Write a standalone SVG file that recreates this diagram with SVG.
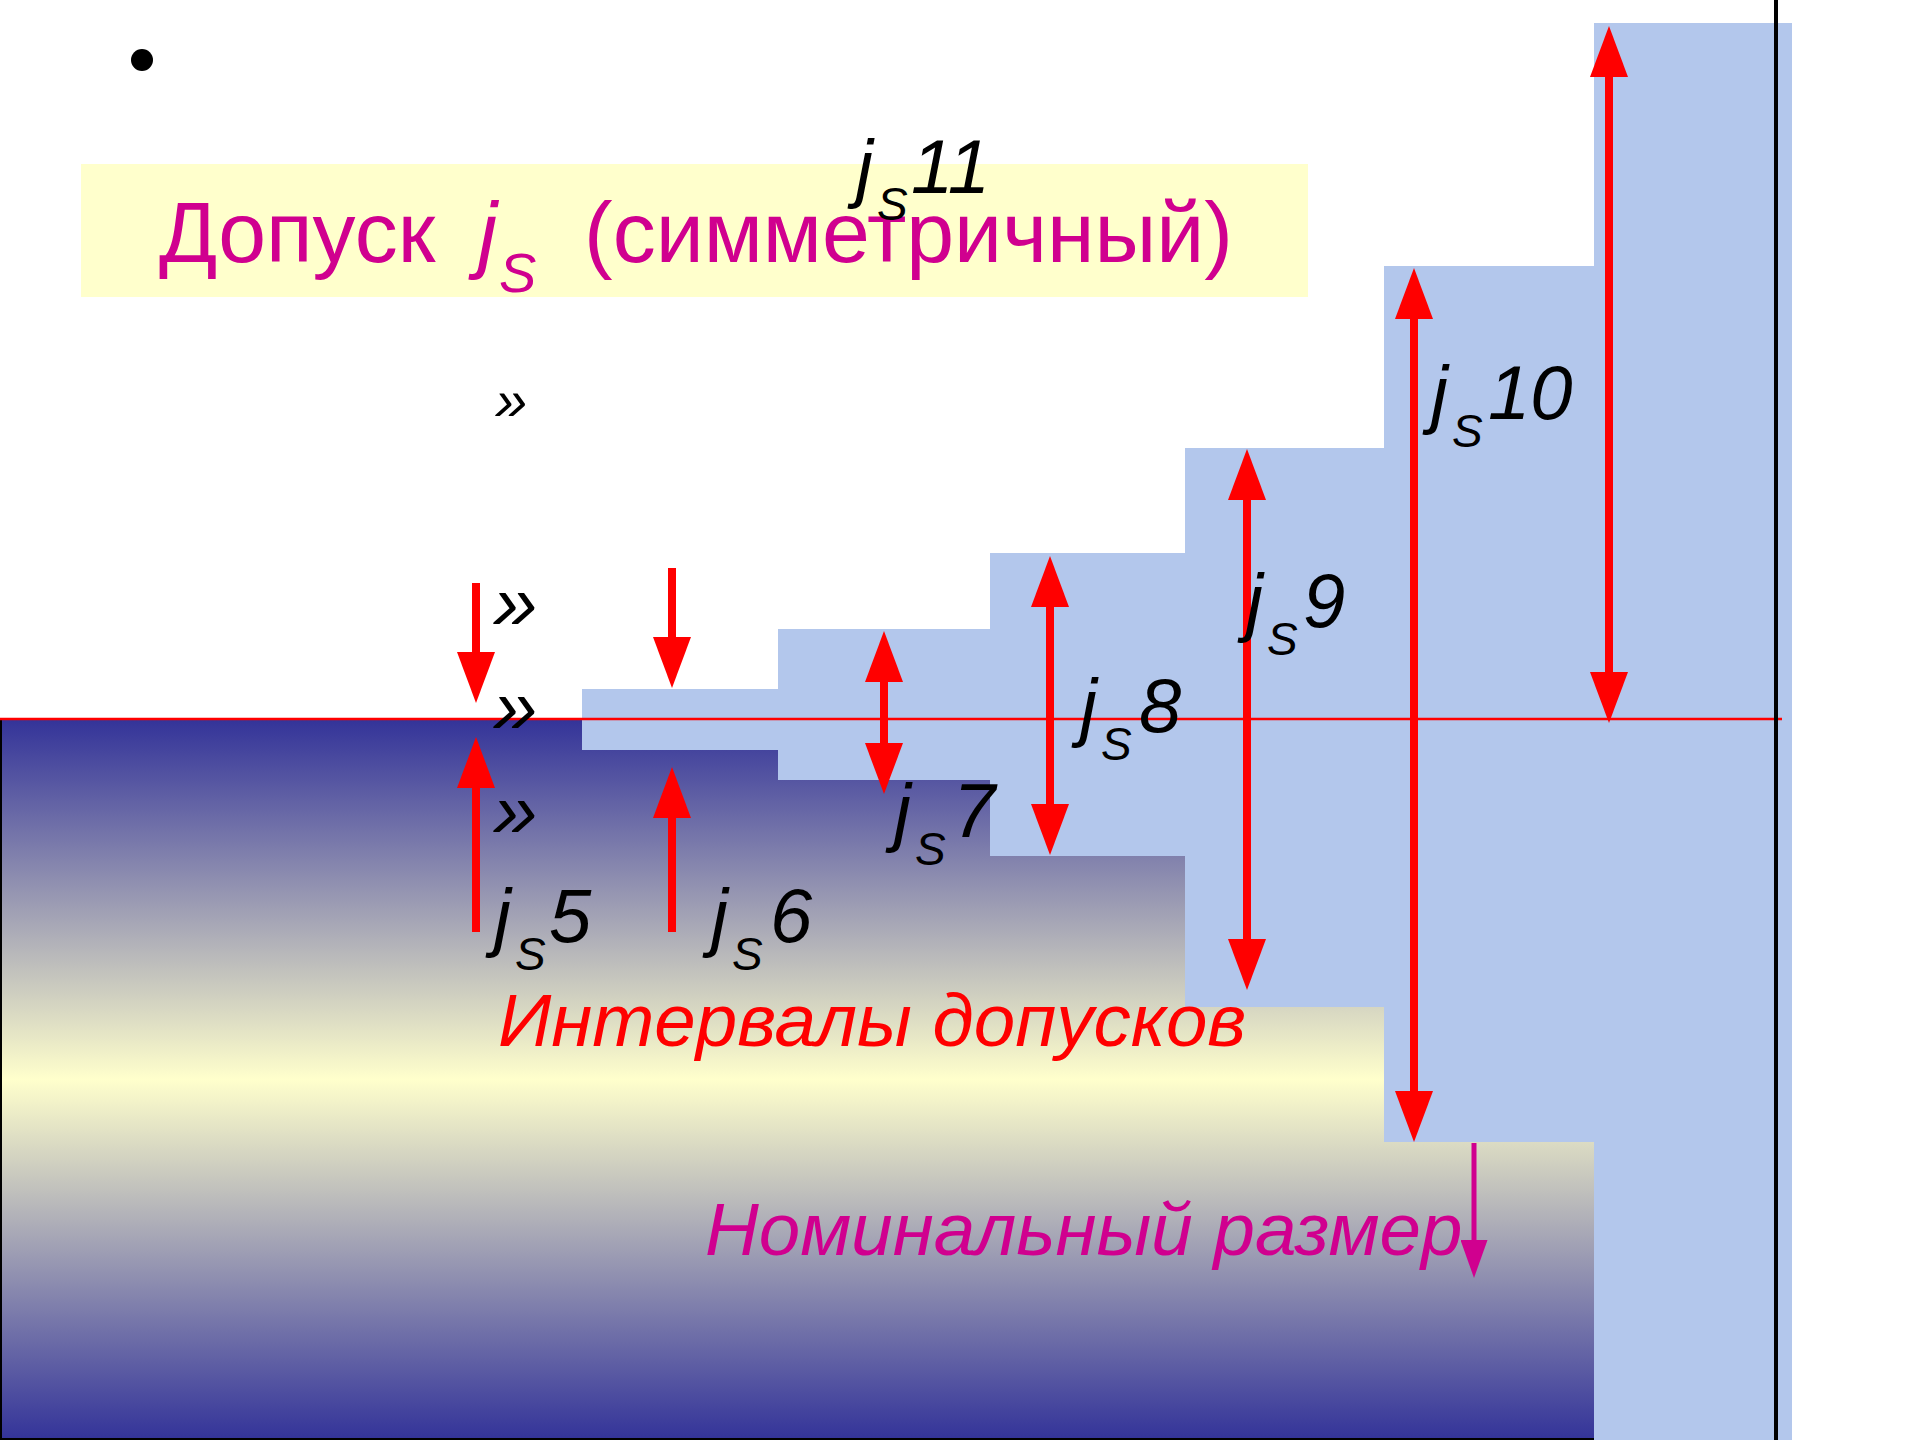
<svg xmlns="http://www.w3.org/2000/svg" width="1920" height="1440" viewBox="0 0 1920 1440">
<defs>
<linearGradient id="gBody" x1="0" y1="0" x2="0" y2="1">
<stop offset="0" stop-color="#333399"/>
<stop offset="0.5" stop-color="#FFFFCC"/>
<stop offset="1" stop-color="#333399"/>
</linearGradient>
<marker id="ah" markerUnits="userSpaceOnUse" viewBox="0 0 52 38" markerWidth="52" markerHeight="38" refX="1" refY="19" orient="auto-start-reverse">
<path d="M0,0 L51,19 L0,38 Z" fill="#FF0000"/>
</marker>
<marker id="ahm" markerUnits="userSpaceOnUse" viewBox="0 0 39 27" markerWidth="39" markerHeight="27" refX="1" refY="13.5" orient="auto">
<path d="M0,0 L38,13.5 L0,27 Z" fill="#D0008F"/>
</marker>
<style>
.lbl{font-family:"Liberation Sans",Arial,sans-serif;font-style:italic;font-size:76px;fill:#000}
.sub{font-size:46px}
.big{font-size:74.5px}
.ttl{font-family:"Liberation Sans",Arial,sans-serif;font-size:86px;fill:#D0008F}
.ttls{font-size:56px;font-style:italic}
.arr{stroke:#FF0000;stroke-width:8;fill:none}
.gq{font-family:"Liberation Sans",Arial,sans-serif;font-style:italic;fill:#000}
</style>
</defs>
<rect x="0" y="0" width="1920" height="1440" fill="#FFFFFF"/>
<g id="bullet"><circle cx="142" cy="60" r="11" fill="#000"/></g>
<g id="title">
<rect x="81" y="164" width="1227" height="133" fill="#FFFFCC"/>
<text class="ttl" x="159" y="262">Допуск</text>
<text class="ttl" x="478" y="262" font-style="italic">j</text>
<text class="ttl ttls" x="499" y="292">S</text>
<text class="ttl" x="584" y="262">(симметричный)</text>
</g>
<g id="body">
<rect x="0" y="719" width="1594" height="721" fill="url(#gBody)"/>
<path d="M1,719 V1439 H1594" fill="none" stroke="#000" stroke-width="2"/>
</g>
<g id="tolerance-zones">
<path d="M582,689 H778 V629 H990 V553 H1185 V448 H1384 V266 H1594 V23 H1792 V1440 H1594 V1142 H1384 V1007 H1185 V856 H990 V780 H778 V750 H582 Z" fill="#B3C7EC"/>
</g>
<g id="axis">
<line x1="0" y1="719" x2="1782" y2="719" stroke="#FF0000" stroke-width="2.5"/>
<line x1="1776" y1="0" x2="1776" y2="1440" stroke="#000" stroke-width="4"/>
</g>
<g id="connectors">
<line class="arr" x1="476" y1="583" x2="476" y2="653" marker-end="url(#ah)"/>
<line class="arr" x1="476" y1="932" x2="476" y2="787" marker-end="url(#ah)"/>
<line class="arr" x1="672" y1="568" x2="672" y2="638" marker-end="url(#ah)"/>
<line class="arr" x1="672" y1="932" x2="672" y2="817" marker-end="url(#ah)"/>
<line class="arr" x1="884" y1="681" x2="884" y2="744" marker-start="url(#ah)" marker-end="url(#ah)"/>
<line class="arr" x1="1050" y1="606" x2="1050" y2="805" marker-start="url(#ah)" marker-end="url(#ah)"/>
<line class="arr" x1="1247" y1="499" x2="1247" y2="940" marker-start="url(#ah)" marker-end="url(#ah)"/>
<line class="arr" x1="1414" y1="318" x2="1414" y2="1092" marker-start="url(#ah)" marker-end="url(#ah)"/>
<line class="arr" x1="1609" y1="76" x2="1609" y2="673" marker-start="url(#ah)" marker-end="url(#ah)"/>
<line x1="1474" y1="1143" x2="1474" y2="1241" stroke="#D0008F" stroke-width="5" marker-end="url(#ahm)"/>
</g>
<g id="guillemets">
<text class="gq" x="495" y="420" font-size="58">»</text>
<text class="gq" x="493" y="630" font-size="80">»</text>
<text class="gq" x="493" y="734" font-size="80">»</text>
<text class="gq" x="493" y="838" font-size="80">»</text>
</g>
<g id="label-js5"><text class="lbl" x="494" y="942">j</text><text class="lbl sub" x="515" y="970">S</text><text class="lbl" x="549" y="942">5</text></g>
<g id="label-js6"><text class="lbl" x="711" y="942">j</text><text class="lbl sub" x="732" y="970">S</text><text class="lbl" x="770" y="942">6</text></g>
<g id="label-js7"><text class="lbl" x="894" y="837">j</text><text class="lbl sub" x="915" y="865">S</text><text class="lbl" x="953" y="837">7</text></g>
<g id="label-js8"><text class="lbl" x="1080" y="732">j</text><text class="lbl sub" x="1101" y="760">S</text><text class="lbl" x="1139" y="732">8</text></g>
<g id="label-js9"><text class="lbl" x="1246" y="627">j</text><text class="lbl sub" x="1267" y="655">S</text><text class="lbl" x="1303" y="627">9</text></g>
<g id="label-js10"><text class="lbl" x="1431" y="419">j</text><text class="lbl sub" x="1452" y="447">S</text><text class="lbl" x="1488" y="419">10</text></g>
<g id="label-js11"><text class="lbl" x="856" y="193">j</text><text class="lbl sub" x="877" y="220">S</text><text class="lbl" x="911" y="193">11</text></g>
<g id="label-intervals"><text class="lbl big" x="498" y="1046" style="fill:#FF0000">Интервалы допусков</text></g>
<g id="label-nominal"><text class="lbl big" x="705" y="1255" style="fill:#D0008F">Номинальный размер</text></g>
</svg>
